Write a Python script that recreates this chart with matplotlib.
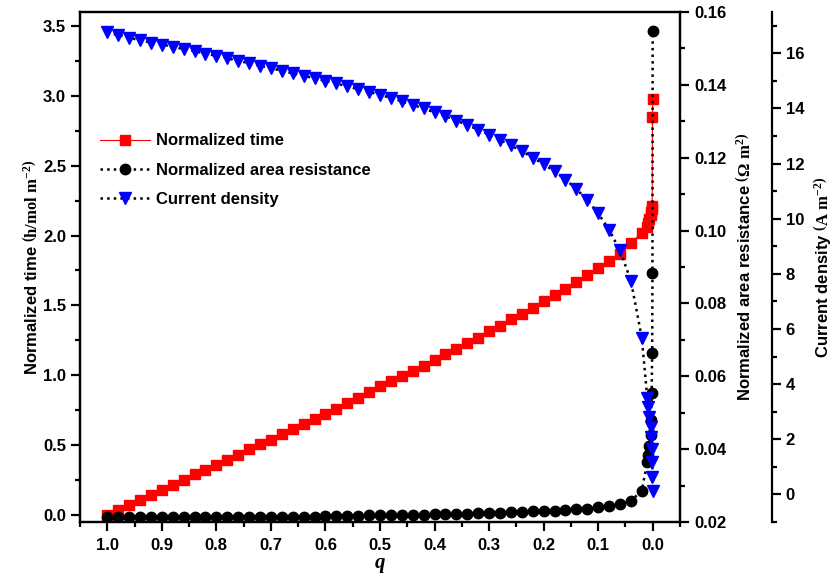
import matplotlib
matplotlib.use("Agg")
import matplotlib.pyplot as plt
from matplotlib.ticker import MultipleLocator

plt.rcParams['font.family'] = ['Liberation Sans', 'DejaVu Sans']
plt.rcParams['font.weight'] = 'bold'
plt.rcParams['axes.labelweight'] = 'bold'
plt.rcParams['font.size'] = 12
plt.rcParams['mathtext.fontset'] = 'custom'
plt.rcParams['mathtext.rm'] = 'Liberation Serif'
plt.rcParams['mathtext.bf'] = 'Liberation Serif:bold'
plt.rcParams['mathtext.it'] = 'Liberation Serif:italic:bold'

# q values: regular grid then the tail close to zero
q = [1.00, 0.98, 0.96, 0.94, 0.92, 0.90, 0.88, 0.86, 0.84, 0.82,
     0.80, 0.78, 0.76, 0.74, 0.72, 0.70, 0.68, 0.66, 0.64, 0.62,
     0.60, 0.58, 0.56, 0.54, 0.52, 0.50, 0.48, 0.46, 0.44, 0.42,
     0.40, 0.38, 0.36, 0.34, 0.32, 0.30, 0.28, 0.26, 0.24, 0.22,
     0.20, 0.18, 0.16, 0.14, 0.12, 0.10, 0.08, 0.06, 0.04, 0.02,
     0.01, 0.008, 0.006, 0.004, 0.003, 0.002, 0.001, 0.0005, 0.0001]

norm_time = [0.0, 0.035, 0.07, 0.105, 0.14, 0.18, 0.215, 0.25, 0.29, 0.325,
             0.36, 0.395, 0.43, 0.47, 0.505, 0.54, 0.58, 0.615, 0.65, 0.69,
             0.725, 0.76, 0.80, 0.84, 0.88, 0.92, 0.96, 0.995, 1.03, 1.07,
             1.11, 1.15, 1.19, 1.23, 1.27, 1.315, 1.355, 1.40, 1.44, 1.485,
             1.53, 1.575, 1.62, 1.67, 1.72, 1.77, 1.82, 1.87, 1.945, 2.02,
             2.06, 2.09, 2.12, 2.15, 2.17, 2.19, 2.21, 2.85, 2.98]

area_res = [0.0215] * 20 + \
           [0.0216, 0.0216, 0.0217, 0.0217, 0.0218, 0.0218, 0.0219, 0.0219, 0.0220, 0.0220,
            0.0221, 0.0221, 0.0222, 0.0223, 0.0224, 0.0225, 0.0226, 0.0227, 0.0228, 0.0229,
            0.0230, 0.0231, 0.0233, 0.0235, 0.0237, 0.0240, 0.0244, 0.0250, 0.0258, 0.0286,
            0.0365, 0.0385, 0.041, 0.044, 0.048, 0.0554, 0.0664, 0.0884, 0.1548]

cur_density = [16.76, 16.66, 16.56, 16.48, 16.39, 16.32, 16.24, 16.15, 16.08, 15.99,
               15.91, 15.82, 15.73, 15.64, 15.55, 15.46, 15.37, 15.27, 15.19, 15.09,
               15.00, 14.91, 14.80, 14.70, 14.60, 14.50, 14.38, 14.26, 14.13, 14.00,
               13.86, 13.72, 13.56, 13.40, 13.23, 13.05, 12.86, 12.66, 12.45, 12.22,
               11.98, 11.72, 11.42, 11.08, 10.68, 10.20, 9.60, 8.85, 7.75, 5.68,
               3.50, 3.18, 2.80, 2.46, 2.10, 1.63, 1.16, 0.65, 0.14]

fig = plt.figure(figsize=(8.35, 5.79), dpi=100)
ax = fig.add_axes([80 / 835, 57 / 579, 600 / 835, 510 / 579])
ax2 = ax.twinx()
ax3 = ax.twinx()
ax3.spines['right'].set_position(('axes', 1.153))
for s in ['top', 'bottom', 'left']:
    ax3.spines[s].set_visible(False)

l1, = ax.plot(q, norm_time, color='red', lw=0.8, marker='s', ms=7,
              mec='red', mfc='red', label='Normalized time')
l2, = ax2.plot(q, area_res, color='black', ls=':', lw=1.8, marker='o', ms=7.5,
               mfc='black', mec='black', label='Normalized area resistance')
l3, = ax3.plot(q, cur_density, color='black', ls=':', lw=1.8, marker='v', ms=8.5,
               mfc='blue', mec='blue', label='Current density')

ax.set_xlim(1.05, -0.05)
ax.set_ylim(-0.05, 3.6)
ax2.set_ylim(0.02, 0.16)
ax3.set_ylim(-1, 17.5)

ax.xaxis.set_major_locator(MultipleLocator(0.1))
ax.xaxis.set_minor_locator(MultipleLocator(0.05))
ax.yaxis.set_major_locator(MultipleLocator(0.5))
ax.yaxis.set_minor_locator(MultipleLocator(0.25))
ax2.yaxis.set_major_locator(MultipleLocator(0.02))
ax2.yaxis.set_minor_locator(MultipleLocator(0.01))
ax3.yaxis.set_major_locator(MultipleLocator(2))
ax3.yaxis.set_minor_locator(MultipleLocator(1))

ax.set_xticks([1.0, 0.9, 0.8, 0.7, 0.6, 0.5, 0.4, 0.3, 0.2, 0.1, 0.0])
ax.set_xticklabels(['1.0', '0.9', '0.8', '0.7', '0.6', '0.5', '0.4', '0.3', '0.2', '0.1', '0.0'])
ax.tick_params(top=False)
for a in (ax, ax2, ax3):
    for sp in a.spines.values():
        sp.set_linewidth(1.6)
    a.tick_params(which='major', direction='out', length=6.5, width=1.6, labelsize=12)
    a.tick_params(which='minor', direction='out', length=3.5, width=1.6)
ax.tick_params(axis='x', which='major', pad=5)

ax2.yaxis.set_major_formatter(plt.FormatStrFormatter('%.2f'))
ax.yaxis.set_major_formatter(plt.FormatStrFormatter('%.1f'))

ax.set_xlabel('q', fontfamily='Liberation Serif', fontstyle='italic',
              fontweight='bold', fontsize=15, labelpad=0)
ax.set_ylabel(r'Normalized time $\left(\mathbf{h/mol\ m^{-2}}\right)$', fontsize=12, labelpad=2)
ax2.set_ylabel(r'Normalized area resistance $\left(\mathbf{\Omega\ m^{2}}\right)$', fontsize=12, labelpad=6)
ax3.set_ylabel(r'Current density $\left(\mathbf{A\ m^{-2}}\right)$', fontsize=12, labelpad=5)

ax3.legend(handles=[l1, l2, l3], loc='center left', bbox_to_anchor=(0.02, 0.69),
           frameon=False, borderpad=0, handlelength=3.0, handletextpad=0.35,
           labelspacing=0.85, prop={'weight': 'bold', 'size': 12})

fig.savefig('out.png', dpi=100)
